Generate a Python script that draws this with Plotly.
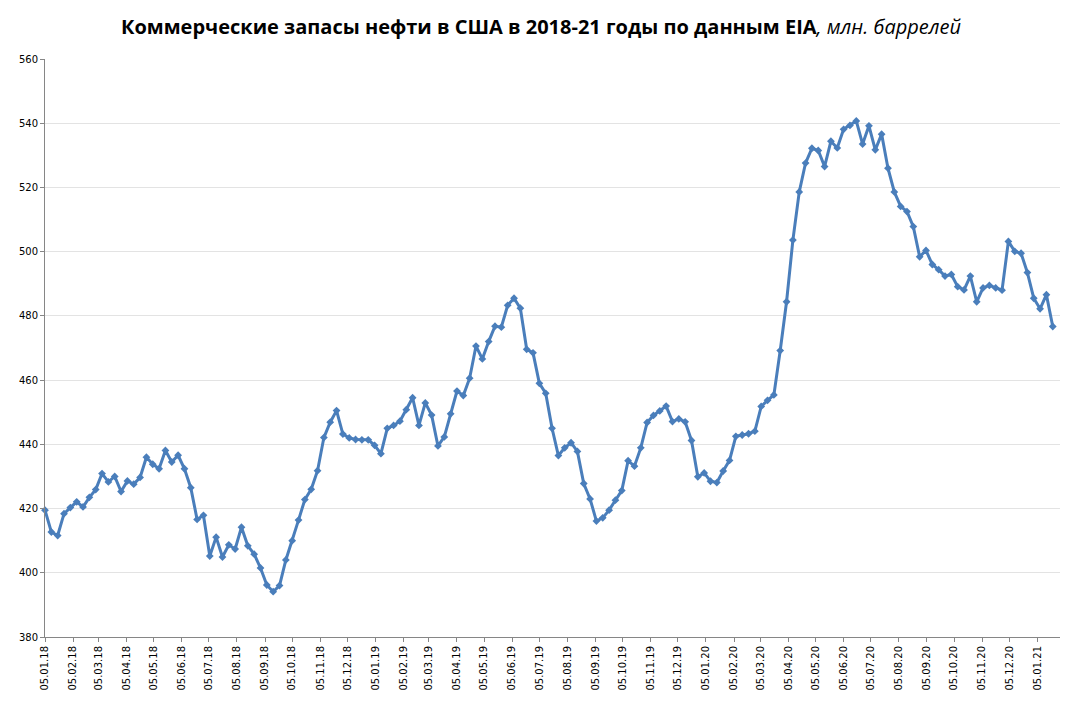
import pandas as pd
import plotly.graph_objects as go

start_date = "2018-01-05"
stocks_2018 = [419.5, 412.7, 411.6, 418.4, 420.3, 422.1, 420.5, 423.5, 425.9, 430.9, 428.3, 430.0, 425.3,
               428.6, 427.6, 429.7, 436.0, 433.8, 432.4, 438.1, 434.5, 436.6, 432.4, 426.5, 416.6, 417.9,
               405.2, 411.1, 404.9, 408.7, 407.4, 414.2, 408.4, 405.8, 401.5, 396.2, 394.1, 396.0, 404.0,
               410.0, 416.4, 422.8, 426.0, 431.8, 442.1, 446.9, 450.5, 443.2, 442.0, 441.5, 441.4, 441.4]
stocks_2019 = [439.7, 437.1, 445.0, 445.9, 447.2, 450.8, 454.5, 445.9, 452.9, 449.1, 439.5, 442.3, 449.5,
               456.6, 455.2, 460.6, 470.6, 466.6, 472.0, 476.8, 476.5, 483.3, 485.5, 482.4, 469.6, 468.5,
               459.0, 455.9, 445.0, 436.5, 438.9, 440.5, 437.8, 427.8, 423.0, 416.1, 417.1, 419.5, 422.6,
               425.6, 434.9, 433.2, 438.9, 446.8, 449.0, 450.4, 451.9, 447.1, 447.9, 447.0, 441.2, 429.9]
stocks_2020 = [431.1, 428.5, 428.1, 431.7, 435.0, 442.5, 442.9, 443.3, 444.1, 451.8, 453.7, 455.4, 469.2,
               484.4, 503.6, 518.6, 527.6, 532.2, 531.5, 526.5, 534.4, 532.3, 538.1, 539.3, 540.7, 533.5,
               539.2, 531.7, 536.6, 526.0, 518.6, 514.1, 512.5, 507.8, 498.4, 500.4, 496.0, 494.4, 492.4,
               492.9, 489.1, 488.1, 492.4, 484.4, 488.7, 489.5, 488.7, 488.0, 503.2, 500.1, 499.5, 493.5]
stocks_2021 = [485.5, 482.2, 486.6, 476.7]

tick_labels = ["05.01.18", "05.02.18", "05.03.18", "05.04.18", "05.05.18", "05.06.18", "05.07.18",
               "05.08.18", "05.09.18", "05.10.18", "05.11.18", "05.12.18",
               "05.01.19", "05.02.19", "05.03.19", "05.04.19", "05.05.19", "05.06.19", "05.07.19",
               "05.08.19", "05.09.19", "05.10.19", "05.11.19", "05.12.19",
               "05.01.20", "05.02.20", "05.03.20", "05.04.20", "05.05.20", "05.06.20", "05.07.20",
               "05.08.20", "05.09.20", "05.10.20", "05.11.20", "05.12.20",
               "05.01.21"]

values = stocks_2018 + stocks_2019 + stocks_2020 + stocks_2021
dates = pd.date_range(start_date, periods=len(values), freq="7D")
tick_dates = [pd.to_datetime(t, format="%d.%m.%y") for t in tick_labels]

blue = "#4a7ebb"
fig = go.Figure()
fig.add_trace(go.Scatter(
    x=dates, y=values, mode="lines+markers",
    line=dict(color=blue, width=3),
    marker=dict(symbol="diamond", size=6, color=blue),
    cliponaxis=False, hoverinfo="x+y", showlegend=False,
))

fig.update_layout(
    width=1076, height=701,
    margin=dict(l=37, r=24, t=51, b=72),
    paper_bgcolor="white", plot_bgcolor="white",
    title=dict(
        text="<b>Коммерческие запасы нефти в США в 2018-21 годы по данным EIA</b><i>, млн. баррелей</i>",
        x=0.4954, xanchor="center", y=0.973, yanchor="middle",
        font=dict(family="Open Sans", size=20, color="black"),
    ),
    xaxis=dict(
        type="date",
        range=["2018-01-05", "2021-01-30"],
        tickmode="array", tickvals=tick_dates, ticktext=tick_labels,
        tickangle=-90, ticks="outside", ticklen=4, tickcolor="#868686",
        tickfont=dict(family="DejaVu Sans", size=10, color="black"),
        showgrid=False, showline=True, linecolor="#868686", linewidth=1,
        zeroline=False,
    ),
    yaxis=dict(
        range=[380, 560], dtick=20, tick0=380,
        ticks="outside", ticklen=4, tickcolor="#868686",
        tickfont=dict(family="DejaVu Sans", size=10, color="black"),
        showgrid=True, gridcolor="#e3e3e3", gridwidth=1,
        showline=True, linecolor="#868686", linewidth=1,
        zeroline=False,
    ),
)

fig.write_html("out.html")
